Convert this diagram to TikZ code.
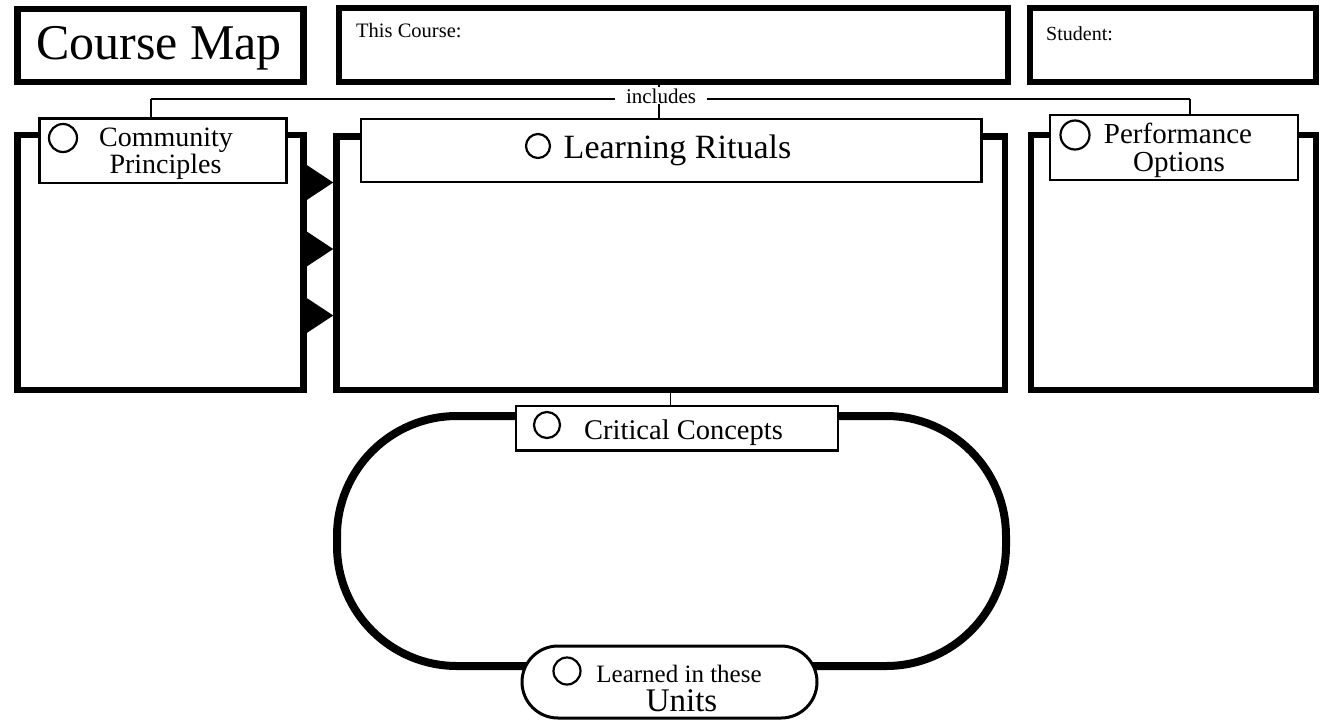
\documentclass[tikz,border=0pt]{standalone}
\usepackage{fontspec}
\setmainfont{Liberation Serif}
\usetikzlibrary{backgrounds}
\begin{document}
\begin{tikzpicture}[x=1pt,y=-1pt,
  heavybox/.style={draw,line width=6.5pt,fill=white,inner sep=0pt,minimum width=#1},
  tagbox/.style={draw,line width=2.5pt,fill=white,inner sep=0pt},
  bullet/.style={draw,circle,line width=2.2pt,inner sep=0pt,minimum size=#1},
  link/.style={line width=1.4pt},
  wedge/.style={fill=black},
  txt/.style={inner sep=0pt,anchor=base,font={\fontsize{#1}{#1}\selectfont}},
  ltxt/.style={inner sep=0pt,anchor=base west,font={\fontsize{#1}{#1}\selectfont}}]
\useasboundingbox (0,0) rectangle (1320,721);

% header boxes
\node[heavybox=286, minimum height=73] (cm) at (160.5,45.5) {};
\node[heavybox=669, minimum height=74] (tc) at (673.5,45) {};
\node[heavybox=286, minimum height=74] (st) at (1173,45) {};
\node[txt=50] (cmtext) at (159,59.5) {Course Map};
\node[ltxt=20.5] (tctext) at (356,37) {This Course:};
\node[ltxt=20] (sttext) at (1046,40) {Student:};

% main panels
\node[heavybox=286, minimum height=255] (cp) at (160.5,262.5) {};
\node[heavybox=668.5, minimum height=253.5] (lr) at (670.75,263.25) {};
\node[heavybox=285, minimum height=255] (po) at (1173.5,262.5) {};

% panel titles
\node[tagbox, minimum width=247, minimum height=64.5] (cpl) at (163,150.75) {};
\node[tagbox, minimum width=620.5, minimum height=63] (lrl) at (671.25,150.5) {};
\node[tagbox, minimum width=248, minimum height=65] (pol) at (1174,147.5) {};

\node[bullet=28] (cpc) at (63,138) {};
\node[txt=28] (cpt1) at (166,146.5) {Community};
\node[txt=28] (cpt2) at (165.5,173) {Principles};

\node[bullet=24] (lrc) at (538,146) {};
\node[txt=34] (lrt) at (677.5,158) {Learning Rituals};

\node[bullet=29] (poc) at (1075,135) {};
\node[txt=29] (pot1) at (1178,143) {Performance};
\node[txt=29] (pot2) at (1179,171) {Options};

% wedges between the first two panels
\foreach \yy in {165,231.5,298}{
  \fill[wedge] (cp.east |- 0,\yy) -- (lr.west |- 0,\yy+17.5) -- (cp.east |- 0,\yy+35) -- cycle;
}

% loop of units
\node[draw,line width=8pt,rounded corners=120pt,minimum width=669,minimum height=250,inner sep=0pt] (loop) at (671.5,541) {};
\node[tagbox, minimum width=322, minimum height=44.5] (ccl) at (677,428.25) {};
\node[bullet=26] (ccc) at (547,425) {};
\node[txt=28.5] (cct) at (683.5,439) {Critical Concepts};

\node[draw,line width=3pt,fill=white,rounded corners=36pt,minimum width=295,minimum height=72,inner sep=0pt] (un) at (669.5,682) {};
\node[bullet=27] (unc) at (567,671) {};
\node[txt=25] (unt1) at (679,682) {Learned in these};
\node[txt=33] (unt2) at (681.5,711) {Units};

% includes connector
\node[txt=21,fill=white,inner xsep=11pt,inner ysep=1pt] (inc) at (661,103) {includes};
\coordinate (incL) at (151,99);
\coordinate (incR) at (1190,99);
\begin{pgfonlayer}{background}
  \draw[link] (incL) -- (incR);
  \draw[link] (incL) -- (incL |- cpl.north);
  \draw[link] (incR) -- (incR |- pol.north);
  \draw[link] (tc.south -| 659,0) -- (lrl.north -| 659,0);
  \draw[link] (lr.south) -- (lr.south |- ccl.north);
\end{pgfonlayer}
\end{tikzpicture}
\end{document}
